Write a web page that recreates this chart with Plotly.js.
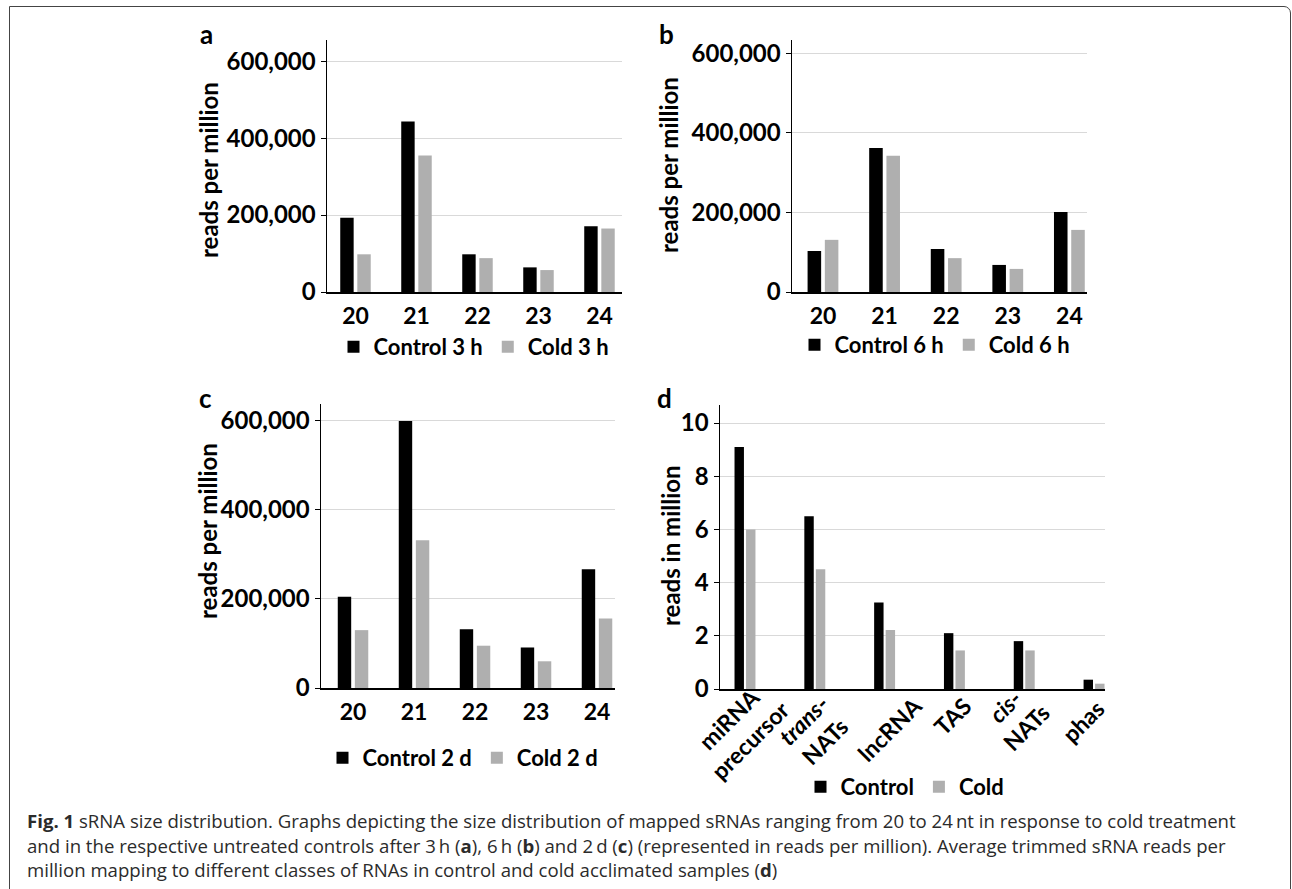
<!DOCTYPE html>
<html>
<head>
<meta charset="utf-8">
<script src="https://cdn.plot.ly/plotly-3.0.1.min.js"></script>
<style>
  html, body { margin: 0; padding: 0; background: #fff; }
  #wrap { position: relative; width: 1292px; height: 889px; overflow: hidden; }
  #chart { position: absolute; left: 0; top: 0; width: 1292px; height: 889px; }
  #frame { position: absolute; left: 9px; top: 6px; width: 1280px; height: 920px;
           border: 1.5px solid #444; border-top-right-radius: 7px; pointer-events: none; }
</style>
</head>
<body>
<div id="wrap"><div id="chart"></div><div id="frame"></div></div>
<script>
// ---- data ----
const sizeCategories = ['20', '21', '22', '23', '24'];
const control3h = [193000, 443000, 98000, 64000, 171000];
const cold3h    = [98000, 355000, 88000, 57000, 165000];
const control6h = [103000, 362000, 108000, 68000, 201000];
const cold6h    = [131000, 342000, 85000, 58000, 156000];
const control2d = [205000, 600000, 132000, 91000, 267000];
const cold2d    = [130000, 332000, 95000, 60000, 156000];
const rnaClasses = ['miRNA<br>precursor', '<i>trans</i>-<br>NATs', 'lncRNA', 'TAS', '<i>cis</i>-<br>NATs', 'phas'];
const controlClass = [9.1, 6.5, 3.25, 2.1, 1.8, 0.35];
const coldClass    = [6.0, 4.5, 2.22, 1.45, 1.45, 0.2];
const sizeTickVals = [0, 200000, 400000, 600000];
const sizeTickText = ['0', '200,000', '400,000', '600,000'];
const classTickVals = [0, 2, 4, 6, 8, 10];
const classTickText = ['0', '2', '4', '6', '8', '10'];
const legendNames = [['Control 3 h', 'Cold 3 h'], ['Control 6 h', 'Cold 6 h'], ['Control 2 d', 'Cold 2 d'], ['Control', 'Cold']];
const panelLetters = ['a', 'b', 'c', 'd'];
const yTitles = ['reads per million', 'reads per million', 'reads per million', 'reads in million'];
const captionLines = [
  '<b>Fig. 1</b> sRNA size distribution. Graphs depicting the size distribution of mapped sRNAs ranging from 20 to 24\u2009nt in response to cold treatment',
  'and in the respective untreated controls after 3\u2009h (<b>a</b>), 6\u2009h (<b>b</b>) and 2\u2009d (<b>c</b>) (represented in reads per million). Average trimmed sRNA reads per',
  'million mapping to different classes of RNAs in control and cold acclimated samples (<b>d</b>)'
];

// ---- helpers ----
const W = 1292, H = 889;
const px = v => v / W;
const py = v => 1 - v / H;
const FONT = 'Lato, "Open Sans", sans-serif';
const BLACK = '#000000', GREY = '#afafaf';

function barPair(cats, c, k, idx, names, w, gap) {
  const ax = idx === 1 ? '' : String(idx);
  const lg = idx === 1 ? 'legend' : 'legend' + idx;
  return [
    { type: 'bar', x: cats, y: c, name: names[0], xaxis: 'x' + ax, yaxis: 'y' + ax, legend: lg,
      marker: { color: BLACK, line: { width: 0 } }, width: w, offset: -w - gap / 2, hoverinfo: 'y' },
    { type: 'bar', x: cats, y: k, name: names[1], xaxis: 'x' + ax, yaxis: 'y' + ax, legend: lg,
      marker: { color: GREY, line: { width: 0 } }, width: w, offset: gap / 2, hoverinfo: 'y' }
  ];
}

const traces = [].concat(
  barPair(sizeCategories, control3h, cold3h, 1, legendNames[0], 0.22, 0.06),
  barPair(sizeCategories, control6h, cold6h, 2, legendNames[1], 0.22, 0.06),
  barPair(sizeCategories, control2d, cold2d, 3, legendNames[2], 0.22, 0.06),
  barPair(rnaClasses, controlClass, coldClass, 4, legendNames[3], 0.135, 0.03)
);

function xAxis(x0, x1, yname, range, extra) {
  return Object.assign({
    domain: [px(x0), px(x1)], anchor: yname, type: 'category', range: range,
    showline: true, linecolor: BLACK, linewidth: 1.5, ticks: '', showgrid: false,
    zeroline: false, fixedrange: true,
    tickfont: { family: FONT, size: 23, weight: 700, color: BLACK }, ticklabelstandoff: 3
  }, extra || {});
}
function yAxis(top, bottom, xname, range, tv, tt) {
  return {
    domain: [py(bottom), py(top)], anchor: xname, range: range,
    tickvals: tv, ticktext: tt, showgrid: true, gridcolor: '#d9d9d9', gridwidth: 1,
    showline: true, linecolor: BLACK, linewidth: 1.5, zeroline: false,
    ticks: 'outside', ticklen: 5, tickcolor: BLACK, tickwidth: 1, fixedrange: true,
    tickfont: { family: FONT, size: 24, weight: 700, color: BLACK }
  };
}
function legendAt(cx, cy) {
  return { orientation: 'h', x: px(cx), y: py(cy), xanchor: 'center', yanchor: 'middle',
    bgcolor: 'rgba(0,0,0,0)', itemwidth: 30, traceorder: 'normal', itemclick: false, itemdoubleclick: false,
    font: { family: FONT, size: 22, weight: 700, color: BLACK } };
}

const annotations = [];
const letterPos = [[206, 34], [666, 34], [205, 398], [664, 398]];
panelLetters.forEach((t, i) => annotations.push({
  text: t, xref: 'paper', yref: 'paper', x: px(letterPos[i][0]), y: py(letterPos[i][1]),
  xanchor: 'center', yanchor: 'middle', showarrow: false,
  font: { family: FONT, size: 26, weight: 700, color: BLACK }
}));
const titlePos = [[208, 170], [668, 165], [207, 531], [670, 546]];
yTitles.forEach((t, i) => annotations.push({
  text: t, xref: 'paper', yref: 'paper', x: px(titlePos[i][0]), y: py(titlePos[i][1]),
  xanchor: 'center', yanchor: 'middle', textangle: -90, showarrow: false,
  font: { family: FONT, size: 24, weight: 700, color: BLACK }
}));
// rotated category labels of panel d, placed on the category scale (x) with small pixel nudges
const labelShiftX = [-5, -1, 5, -2, -9, -11];
const labelCenterY = [729, 731, 729, 716, 717, 721];
rnaClasses.forEach((t, i) => annotations.push({
  text: t, xref: 'x4', yref: 'paper', x: i, xshift: labelShiftX[i], y: py(labelCenterY[i]),
  xanchor: 'center', yanchor: 'middle', textangle: -45, showarrow: false, align: 'center',
  font: { family: FONT, size: 23, weight: 700, color: BLACK }
}));
const capY = [820, 845, 869];
captionLines.forEach((t, i) => annotations.push({
  text: t, xref: 'paper', yref: 'paper', x: px(25), y: py(capY[i]),
  xanchor: 'left', yanchor: 'middle', showarrow: false, align: 'left',
  font: { family: '"Open Sans", sans-serif', size: 18.6, color: '#2b2b2b' }
}));

const layout = {
  width: W, height: H, margin: { l: 0, r: 0, t: 0, b: 0 },
  paper_bgcolor: '#ffffff', plot_bgcolor: 'rgba(0,0,0,0)',
  barmode: 'overlay', showlegend: true,
  font: { family: FONT, size: 22, color: BLACK },
  xaxis:  xAxis(327, 622, 'y',  [-0.467, 4.369]),
  yaxis:  yAxis(40, 292, 'x',  [0, 655000], sizeTickVals, sizeTickText),
  xaxis2: xAxis(792, 1087, 'y2', [-0.503, 4.286]),
  yaxis2: yAxis(40, 292, 'x2', [0, 633000], sizeTickVals, sizeTickText),
  xaxis3: xAxis(321, 615, 'y3', [-0.525, 4.295]),
  yaxis3: yAxis(404, 688, 'x3', [0, 638000], sizeTickVals, sizeTickText),
  xaxis4: xAxis(720, 1105, 'y4', [-0.358, 5.157], { showticklabels: false }),
  yaxis4: yAxis(405, 689, 'x4', [0, 10.68], classTickVals, classTickText),
  legend:  legendAt(474, 347),
  legend2: legendAt(935, 345),
  legend3: legendAt(463, 758),
  legend4: legendAt(905, 787),
  annotations: annotations
};

Plotly.newPlot('chart', traces, layout, { displayModeBar: false, staticPlot: true });
</script>
</body>
</html>
